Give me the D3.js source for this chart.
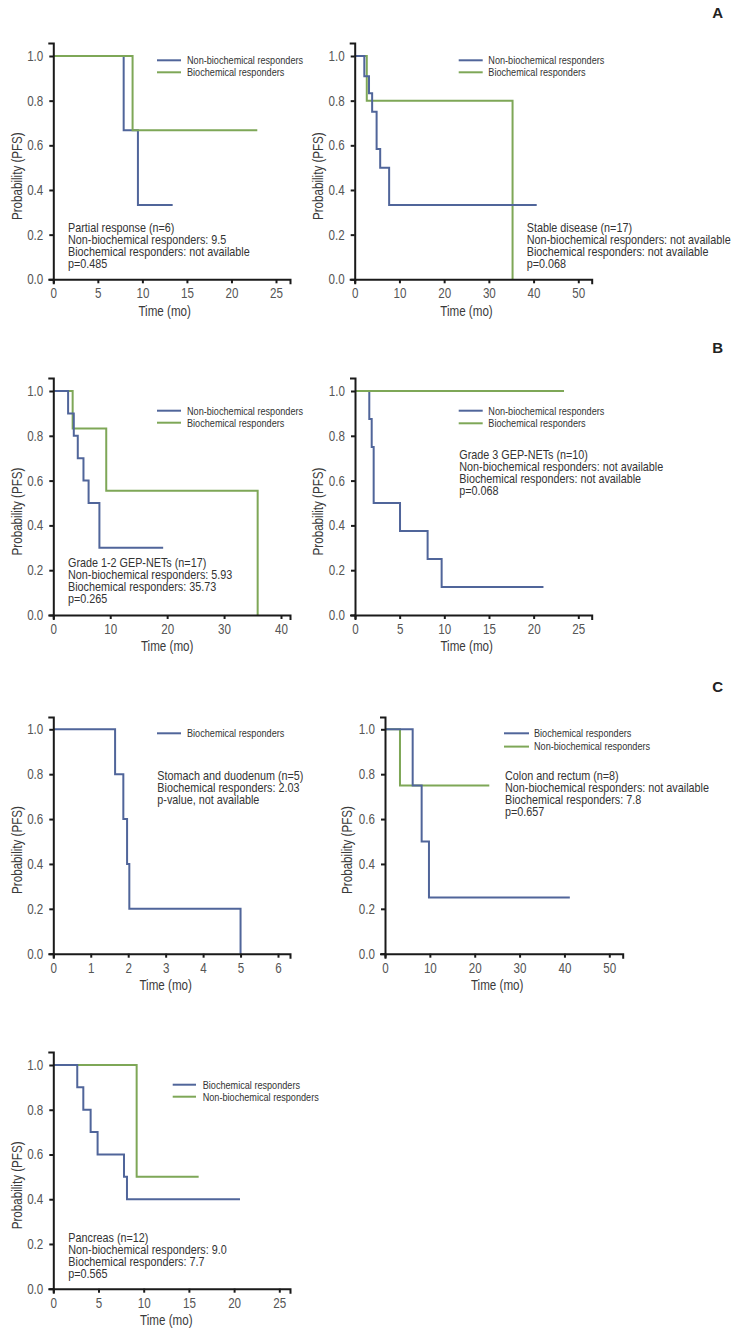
<!DOCTYPE html>
<html>
<head>
<meta charset="utf-8">
<script src="https://cdn.jsdelivr.net/npm/d3@7"></script>
<style>
html,body{margin:0;padding:0;background:#fff;}
svg{display:block;}
</style>
</head>
<body>
<svg id="chart" width="737" height="1334"></svg>
<script>
// ---------------- DATA ----------------
const yTickValues = [0, 0.2, 0.4, 0.6, 0.8, 1.0];
const xTicks25 = [0, 5, 10, 15, 20, 25];
const xTicks40 = [0, 10, 20, 30, 40];
const xTicks50 = [0, 10, 20, 30, 40, 50];
const xTicks6  = [0, 1, 2, 3, 4, 5, 6];

const seriesNames = ["Non-biochemical responders", "Biochemical responders"];

// A1: Partial response
const a1NonTime = [0, 7.9, 9.5, 13.4];
const a1NonSurv = [1, 0.667, 0.333, 0.333];
const a1BioTime = [0, 8.9, 22.9];
const a1BioSurv = [1, 0.667, 0.667];
const a1Note = ["Partial response (n=6)", "Non-biochemical responders: 9.5", "Biochemical responders: not available", "p=0.485"];

// A2: Stable disease
const a2NonTime = [0, 2.15, 3.2, 3.9, 4.9, 5.7, 7.7, 40.7];
const a2NonSurv = [1, 0.909, 0.833, 0.75, 0.583, 0.5, 0.333, 0.333];
const a2BioTime = [0, 2.7, 35.3];
const a2BioSurv = [1, 0.8, 0];
const a2Note = ["Stable disease (n=17)", "Non-biochemical responders: not available", "Biochemical responders: not available", "p=0.068"];

// B1: Grade 1-2
const b1NonTime = [0, 2.6, 3.6, 4.3, 5.3, 6.2, 8.1, 19.3];
const b1NonSurv = [1, 0.9, 0.8, 0.7, 0.6, 0.5, 0.3, 0.3];
const b1BioTime = [0, 3.4, 9.3, 35.9];
const b1BioSurv = [1, 0.833, 0.555, 0];
const b1Note = ["Grade 1-2 GEP-NETs (n=17)", "Non-biochemical responders: 5.93", "Biochemical responders: 35.73", "p=0.265"];

// B2: Grade 3
const b2NonTime = [0, 1.6, 1.87, 2.09, 5.04, 8.13, 9.7, 21.1];
const b2NonSurv = [1, 0.875, 0.75, 0.5, 0.375, 0.25, 0.125, 0.125];
const b2BioTime = [0, 23.4];
const b2BioSurv = [1, 1];
const b2Note = ["Grade 3 GEP-NETs (n=10)", "Non-biochemical responders: not available", "Biochemical responders: not available", "p=0.068"];

// C1: Stomach and duodenum
const c1BioTime = [0, 1.65, 1.87, 1.97, 2.03, 5.0];
const c1BioSurv = [1, 0.8, 0.6, 0.4, 0.2, 0];
const c1Note = ["Stomach and duodenum (n=5)", "Biochemical responders: 2.03", "p-value, not available"];

// C2: Colon and rectum
const c2BioTime = [0, 6.17, 8.17, 9.8, 41.2];
const c2BioSurv = [1, 0.75, 0.5, 0.25, 0.25];
const c2NonTime = [0, 3.34, 23.25];
const c2NonSurv = [1, 0.75, 0.75];
const c2Note = ["Colon and rectum (n=8)", "Non-biochemical responders: not available", "Biochemical responders: 7.8", "p=0.657"];

// C3: Pancreas
const c3BioTime = [0, 2.65, 3.32, 4.13, 4.9, 7.82, 8.15, 20.65];
const c3BioSurv = [1, 0.9, 0.8, 0.7, 0.6, 0.5, 0.4, 0.4];
const c3NonTime = [0, 9.22, 16.08];
const c3NonSurv = [1, 0.5, 0.5];
const c3Note = ["Pancreas (n=12)", "Non-biochemical responders: 9.0", "Biochemical responders: 7.7", "p=0.565"];

const panelLetters = ["A", "B", "C"];

// ---------------- STYLE ----------------
const BLUE = "#50659a";
const GREEN = "#7ea757";
const FONT = "'Liberation Sans Narrow','Arial Narrow','Liberation Sans',Arial,sans-serif";
const SX = 0.83; // horizontal condensing to mimic a narrow typeface

const zip = (t, s) => t.map((v, i) => ({t: v, s: s[i]}));

const panels = [
  {x0: 53.3, xTickEnd: 276, xEnd: 290, y1: 56, y0: 279.3, yTop: 43, xTicks: xTicks25, yTitleX: 17.3,
   series: [{name: seriesNames[0], color: BLUE, d: zip(a1NonTime, a1NonSurv)}, {name: seriesNames[1], color: GREEN, d: zip(a1BioTime, a1BioSurv)}],
   legendOrder: [0, 1], legend: {x: 157, x2: 181, tx: 187, y: 60.3, dy: 12}, note: a1Note, noteX: 68, noteY: 227.7},
  {x0: 354.7, xTickEnd: 578.3, xEnd: 591.7, y1: 56, y0: 279.3, yTop: 43, xTicks: xTicks50, yTitleX: 318,
   series: [{name: seriesNames[1], color: GREEN, d: zip(a2BioTime, a2BioSurv)}, {name: seriesNames[0], color: BLUE, d: zip(a2NonTime, a2NonSurv)}],
   legendOrder: [1, 0], legend: {x: 458.7, x2: 482.7, tx: 488.3, y: 60.3, dy: 12}, note: a2Note, noteX: 526.7, noteY: 227.7},
  {x0: 53.3, xTickEnd: 281, xEnd: 290, y1: 391, y0: 615, yTop: 378, xTicks: xTicks40, yTitleX: 17.3,
   series: [{name: seriesNames[1], color: GREEN, d: zip(b1BioTime, b1BioSurv)}, {name: seriesNames[0], color: BLUE, d: zip(b1NonTime, b1NonSurv)}],
   legendOrder: [1, 0], legend: {x: 157, x2: 181, tx: 187, y: 410.7, dy: 12}, note: b1Note, noteX: 68, noteY: 562.7},
  {x0: 355, xTickEnd: 578.3, xEnd: 591.7, y1: 391, y0: 615, yTop: 378, xTicks: xTicks25, yTitleX: 318,
   series: [{name: seriesNames[0], color: BLUE, d: zip(b2NonTime, b2NonSurv)}, {name: seriesNames[1], color: GREEN, d: zip(b2BioTime, b2BioSurv)}],
   legendOrder: [0, 1], legend: {x: 458.7, x2: 482.7, tx: 488.3, y: 410.7, dy: 12.6}, note: b2Note, noteX: 459.3, noteY: 454.3},
  {x0: 53.3, xTickEnd: 278, xEnd: 290, y1: 729.3, y0: 953.7, yTop: 717, xTicks: xTicks6, yTitleX: 17.3,
   series: [{name: seriesNames[1], color: BLUE, d: zip(c1BioTime, c1BioSurv)}],
   legendOrder: [0], legend: {x: 157, x2: 181, tx: 187, y: 733.3, dy: 12}, note: c1Note, noteX: 157.3, noteY: 775.3},
  {x0: 385, xTickEnd: 609.3, xEnd: 622.7, y1: 729.3, y0: 953.7, yTop: 717, xTicks: xTicks50, yTitleX: 347.3,
   series: [{name: seriesNames[0], color: GREEN, d: zip(c2NonTime, c2NonSurv)}, {name: seriesNames[1], color: BLUE, d: zip(c2BioTime, c2BioSurv)}],
   legendOrder: [1, 0], legend: {x: 504, x2: 529, tx: 534, y: 733.3, dy: 13.3}, note: c2Note, noteX: 505, noteY: 775.3},
  {x0: 53.3, xTickEnd: 279.3, xEnd: 290, y1: 1065, y0: 1288.7, yTop: 1052, xTicks: xTicks25, yTitleX: 17.3,
   series: [{name: seriesNames[0], color: GREEN, d: zip(c3NonTime, c3NonSurv)}, {name: seriesNames[1], color: BLUE, d: zip(c3BioTime, c3BioSurv)}],
   legendOrder: [1, 0], legend: {x: 172.7, x2: 196, tx: 202.7, y: 1084.7, dy: 12}, note: c3Note, noteX: 68.3, noteY: 1237.3}
];

const svg = d3.select("#chart");

// condensed text helper
function addText(parent, x, y, str, size, opts = {}) {
  const sx = opts.sx || SX;
  const g = parent.append("g")
    .attr("transform", `translate(${x},${y})` + (opts.rotate ? ` rotate(${opts.rotate})` : "") + ` scale(${sx},1)`);
  return g.append("text").attr("x", 0).attr("y", 0)
    .attr("text-anchor", opts.anchor || "start").attr("dominant-baseline", "central")
    .style("font-family", FONT).style("font-size", size + "px")
    .attr("fill", opts.fill || "#333").text(str);
}

panels.forEach(p => {
  const maxTick = p.xTicks[p.xTicks.length - 1];
  const xExt = maxTick * (p.xEnd - p.x0) / (p.xTickEnd - p.x0);
  const x = d3.scaleLinear().domain([0, xExt]).range([p.x0, p.xEnd]);
  const yExt = (p.y0 - p.yTop) / (p.y0 - p.y1);
  const y = d3.scaleLinear().domain([0, yExt]).range([p.y0, p.yTop]);

  const g = svg.append("g");

  // curves
  const line = d3.line().x(d => x(d.t)).y(d => y(d.s)).curve(d3.curveStepAfter);
  p.series.forEach(s => {
    g.append("path").attr("d", line(s.d)).attr("fill", "none")
      .attr("stroke", s.color).attr("stroke-width", 2);
  });

  // axes
  const xa = g.append("g").attr("transform", `translate(0,${p.y0})`)
    .call(d3.axisBottom(x).tickValues(p.xTicks).tickFormat(d3.format("d")).tickSizeOuter(0).tickSize(4).tickPadding(5));
  const ya = g.append("g").attr("transform", `translate(${p.x0},0)`)
    .call(d3.axisLeft(y).tickValues(yTickValues).tickFormat(d3.format(".1f")).tickSizeOuter(0).tickSize(4).tickPadding(6));
  [xa, ya].forEach(a => {
    a.select(".domain").attr("stroke", "#1a1a1a").attr("stroke-width", 2).attr("stroke-linecap", "square");
    a.selectAll(".tick line").attr("stroke", "#1a1a1a").attr("stroke-width", 2);
    a.selectAll(".tick text").attr("fill", "#555").style("font-family", FONT).style("font-size", "14px")
      .attr("transform", `scale(${SX},1)`);
  });
  ya.selectAll(".tick text").attr("x", -10 / SX);

  // axis titles
  addText(g, (p.x0 + p.xTickEnd) / 2, p.y0 + 31.5, "Time (mo)", 14, {anchor: "middle", fill: "#3a3a3a"});
  addText(g, p.yTitleX, (p.y0 + p.y1) / 2 + 8.5, "Probability (PFS)", 14, {anchor: "middle", rotate: -90, fill: "#3a3a3a"});

  // legend
  p.legendOrder.forEach((si, i) => {
    const s = p.series[si];
    const ly = p.legend.y + i * p.legend.dy;
    g.append("line").attr("x1", p.legend.x).attr("x2", p.legend.x2).attr("y1", ly).attr("y2", ly)
      .attr("stroke", s.color).attr("stroke-width", 2);
    addText(g, p.legend.tx, ly, s.name, 11);
  });

  // annotation
  p.note.forEach((t, i) => {
    addText(g, p.noteX, p.noteY + i * 12, t, 12, {sx: 0.9});
  });
});

// panel letters
const letterY = [12.3, 347.2, 686];
panelLetters.forEach((L, i) => {
  svg.append("text").attr("x", 717.7).attr("y", letterY[i]).attr("text-anchor", "middle")
    .attr("dominant-baseline", "central").style("font-family", "'Liberation Sans',Arial,sans-serif")
    .style("font-size", "15px").style("font-weight", "bold").attr("fill", "#222").text(L);
});
</script>
</body>
</html>
